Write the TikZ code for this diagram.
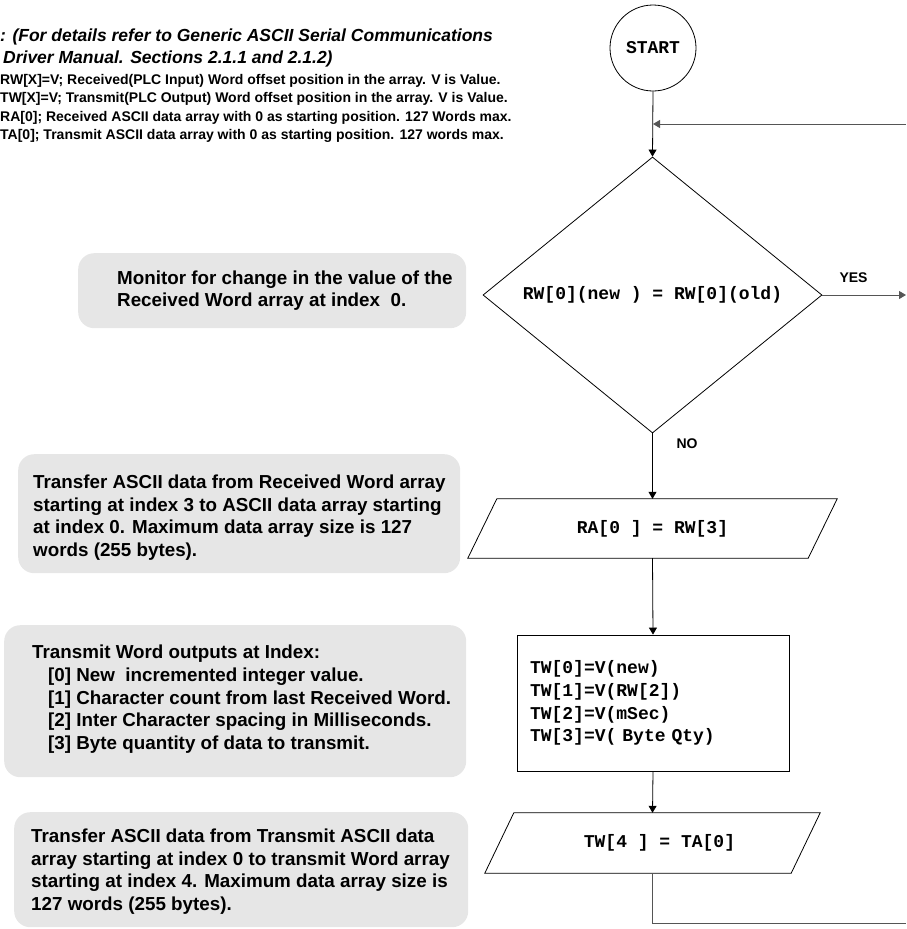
\documentclass[tikz,border=0pt]{standalone}
\usepackage{fontspec}
\setmainfont{Liberation Sans}
\newfontfamily\monofnt{Liberation Mono}
\usetikzlibrary{arrows.meta,shapes.geometric,calc}
\definecolor{boxgray}{HTML}{E6E6E6}
\definecolor{linegray}{HTML}{555555}
\tikzset{
  conn/.style={draw=black,line width=0.8pt},
  arr/.style={conn,-{Triangle[length=7pt,width=8pt]}},
  retline/.style={draw=linegray,line width=1pt},
  retarr/.style={retline,-{Triangle[length=7pt,width=8pt]}},
  notebox/.style={fill=boxgray,rounded corners=16pt,inner sep=0pt,anchor=north west},
  notetext/.style={anchor=west,align=left,inner sep=0pt,font=\fontsize{18.8}{22.6}\selectfont\bfseries},
  codefont/.style={font=\fontsize{18}{22.7}\selectfont\monofnt\bfseries},
  lbl/.style={font=\fontsize{14}{16}\selectfont\bfseries,inner sep=0pt},
}
\begin{document}
\begin{tikzpicture}[x=1pt,y=-1pt]
\useasboundingbox (0,0) rectangle (906,929);

% header
\node[anchor=west,align=left,inner sep=0pt,font=\fontsize{17.5}{22}\selectfont\bfseries\itshape] (hdr1) at (0,48)
  {: (For details refer to Generic ASCII Serial Communications\\
  \hspace*{3pt}Driver Manual. Sections 2.1.1 and 2.1.2)};
\node[anchor=west,align=left,inner sep=0pt,font=\fontsize{14}{18.4}\selectfont\bfseries] (hdr2) at (0,108.5)
  {RW[X]=V; Received(PLC Input) Word offset position in the array. V is Value.\\
   TW[X]=V; Transmit(PLC Output) Word offset position in the array. V is Value.\\
   RA[0]; Received ASCII data array with 0 as starting position. 127 Words max.\\
   TA[0]; Transmit ASCII data array with 0 as starting position. 127 words max.};

% flowchart shapes
\node[circle,draw,line width=0.8pt,minimum size=86pt,inner sep=0pt,codefont] (start) at (653,48) {START};
\node[diamond,draw,line width=0.8pt,minimum width=339pt,minimum height=272pt,inner sep=0pt,codefont] (dia) at (652.5,295) {RW[0](new ) = RW[0](old)};
\node[minimum width=340pt,minimum height=59pt,inner sep=0pt,codefont] (ra) at (652.5,528.5) {RA[0 ] = RW[3]};
\draw[line width=0.8pt] ([xshift=-14.5pt]ra.south west) -- ([xshift=14.5pt]ra.north west)
  -- ([xshift=14.5pt]ra.north east) -- ([xshift=-14.5pt]ra.south east) -- cycle;
\node[draw,line width=0.8pt,minimum width=272pt,minimum height=136pt,inner xsep=13pt,inner ysep=0pt,
  text width=246pt,align=left,codefont] (tw) at (653,703)
  {TW[0]=V(new)\\TW[1]=V(RW[2])\\TW[2]=V(mSec)\\TW[3]=V( Byte Qty)};
\node[minimum width=306pt,minimum height=60pt,inner sep=0pt,codefont] (tw4) at (652.5,843) {\hspace*{14pt}TW[4 ] = TA[0]};
\draw[line width=0.8pt] ([xshift=-14.5pt]tw4.south west) -- ([xshift=14.5pt]tw4.north west)
  -- ([xshift=14.5pt]tw4.north east) -- ([xshift=-14.5pt]tw4.south east) -- cycle;

% free ends of the loop / yes
\coordinate (rtop) at (906,124);
\coordinate (rbot) at (906,923);
\coordinate (yesend) at (906,295);

% connectors
\draw[arr] (start.south) -- (dia.north);
\draw[retarr] (rtop) -- (rtop -| start.south);
\draw[retarr] (dia.east) -- (yesend);
\draw[arr] (dia.south) -- (ra.north);
\draw[arr] (ra.south) -- (tw.north);
\draw[arr] (tw.south) -- (tw4.north);
\draw[retline] (tw4.south) |- (rbot);

\node[lbl] (yes) at (853.5,278) {YES};
\node[lbl] (no) at (687,444) {NO};

% notes
\node[notebox,minimum width=388pt,minimum height=75pt] (b1) at (78,253) {};
\node[notetext] (t1) at ([xshift=39pt]b1.west) {Monitor for change in the value of the\\Received Word array at index\ \ 0.};

\node[notebox,minimum width=442pt,minimum height=119pt] (b2) at (18,454) {};
\node[notetext] (t2) at ([xshift=15pt,yshift=-4pt]b2.west) {Transfer ASCII data from Received Word array\\starting at index 3 to ASCII data array starting\\at index 0. Maximum data array size is 127\\words (255 bytes).};

\node[notebox,minimum width=462pt,minimum height=152pt] (b3) at (4,625) {};
\node[notetext] (t3) at ([xshift=28pt,yshift=2pt]b3.west) {Transmit Word outputs at Index:\\
\hspace*{16pt}[0] New\ \ incremented integer value.\\
\hspace*{16pt}[1] Character count from last Received Word.\\
\hspace*{16pt}[2] Inter Character spacing in Milliseconds.\\
\hspace*{16pt}[3] Byte quantity of data to transmit.};

\node[notebox,minimum width=454pt,minimum height=115pt] (b4) at (14,812) {};
\node[notetext] (t4) at ([xshift=17pt,yshift=-2pt]b4.west) {Transfer ASCII data from Transmit ASCII data\\array starting at index 0 to transmit Word array\\starting at index 4. Maximum data array size is\\127 words (255 bytes).};
\end{tikzpicture}
\end{document}
